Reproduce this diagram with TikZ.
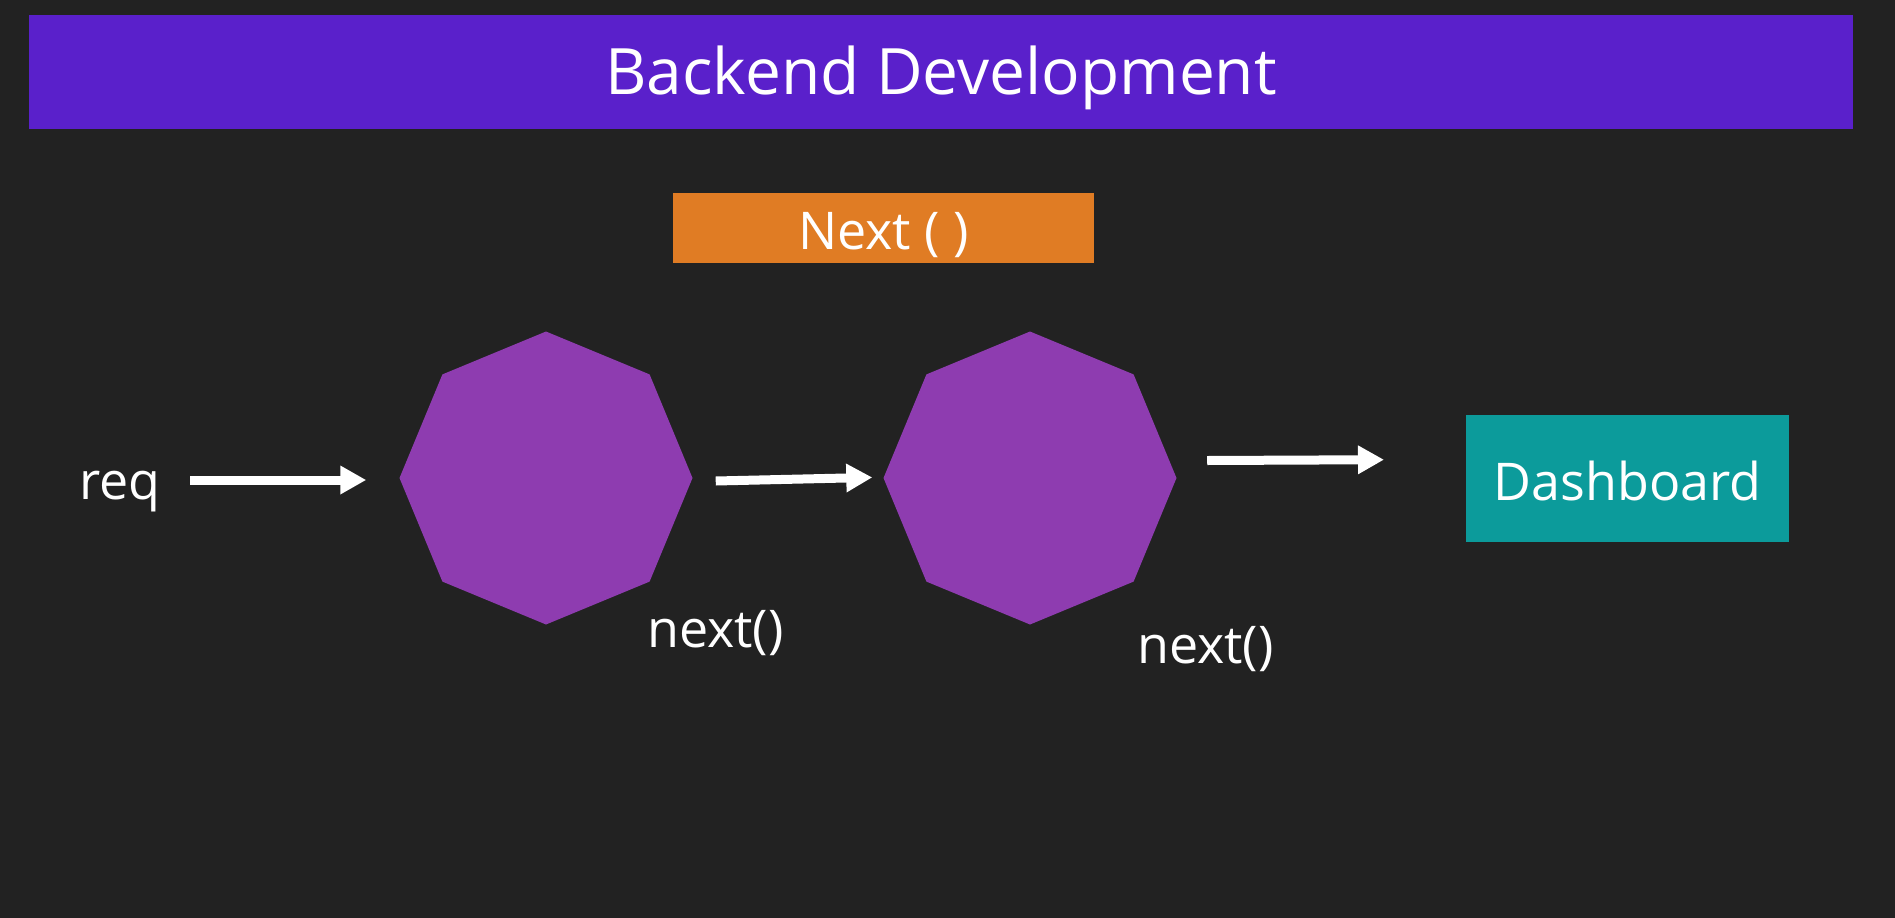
\documentclass[tikz,border=0pt]{standalone}
\usepackage{fontspec}
\setmainfont{Open Sans}
\usetikzlibrary{shapes.geometric,arrows.meta}
\definecolor{bgc}{HTML}{222222}
\definecolor{titlec}{HTML}{5A20CB}
\definecolor{orangec}{HTML}{E07C24}
\definecolor{tealc}{HTML}{0C9B9B}
\definecolor{octc}{HTML}{8E3CB0}
\tikzset{
  octo/.style={regular polygon, regular polygon sides=8, shape border rotate=22.5,
    fill=octc, draw=none, minimum size=293pt, inner sep=0pt},
  arr/.style={draw=white, line width=9pt, -{Triangle[length=26pt,width=27pt]}},
  lbl/.style={text=white, font=\fontsize{52}{60}\selectfont, inner sep=0pt},
}
\begin{document}
\begin{tikzpicture}[x=1pt,y=-1pt]
\fill[bgc] (0,0) rectangle (1895,918);
\useasboundingbox (0,0) rectangle (1895,918);
% title bar
\node[fill=titlec, minimum width=1824pt, minimum height=114.5pt, inner sep=0pt, anchor=north west] (title) at (29,14.5) {};
\node[text=white, font=\fontsize{64}{72}\selectfont, inner sep=0pt, anchor=base] (titletext) at (941,94) {Backend Development};
% Next box
\node[fill=orangec, minimum width=421pt, minimum height=70pt, inner sep=0pt, anchor=north west] (nextbox) at (673,193) {};
\node[lbl, anchor=base] (nexttext) at (883.5,249) {Next ( )};
% octagons
\node[octo] (o1) at (546,478) {};
\node[octo] (o2) at (1030,478) {};
% dashboard
\node[fill=tealc, minimum width=323pt, minimum height=127pt, inner sep=0pt, anchor=north west] (dash) at (1466,415) {};
\node[lbl, anchor=base] (dashtext) at (1627.5,500) {Dashboard};
% labels
\node[lbl, anchor=base west] (req) at (79,499) {req};
\node[lbl, anchor=base west] (n1) at (647,647) {next()};
\node[lbl, anchor=base west] (n2) at (1137,663) {next()};
% arrows
\draw[arr] ([shift={(111,-19)}]req.base west) -- ([shift={(-33,2)}]o1.west);
\draw[arr] ([shift={(23,3)}]o1.east) -- ([shift={(-11,-0.6)}]o2.west);
\draw[arr] ([shift={(30.5,-17.5)}]o2.east) -- ([shift={(-82,-19)}]dash.west);
\end{tikzpicture}
\end{document}
